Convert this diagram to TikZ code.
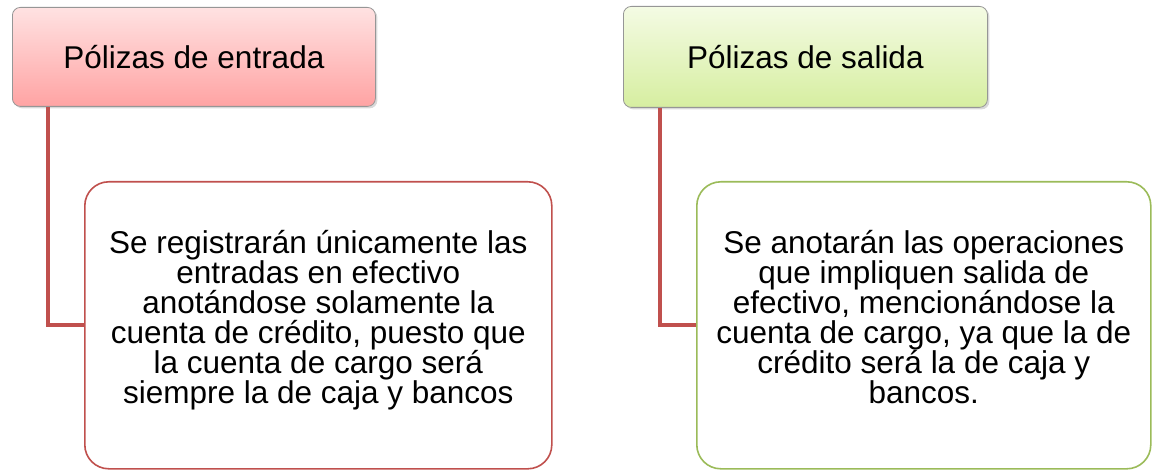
\documentclass[tikz,border=0pt]{standalone}
\usepackage{fontspec}
\setmainfont{Liberation Sans}
\usetikzlibrary{shadows}
\definecolor{linkred}{RGB}{192,80,77}
\definecolor{leafgreen}{RGB}{155,187,89}
\definecolor{pinktop}{RGB}{255,226,226}
\definecolor{pinkbot}{RGB}{255,163,163}
\definecolor{limetop}{RGB}{244,251,228}
\definecolor{limebot}{RGB}{214,238,160}
\definecolor{boxgray}{RGB}{150,150,150}
\begin{document}
\begin{tikzpicture}[x=1pt,y=-1pt]
\tikzstyle{headbox}=[draw=boxgray,line width=0.8pt,rounded corners=8pt,anchor=north west,inner sep=0pt,font=\fontsize{31.5}{30}\selectfont,drop shadow={shadow xshift=2pt,shadow yshift=-2pt,opacity=0.3}]
\tikzstyle{notebox}=[fill=white,line width=1.6pt,rounded corners=24pt,anchor=north west,align=center,inner sep=0pt,text depth=17pt,font=\fontsize{31.5}{30}\selectfont]
\tikzstyle{link}=[draw=linkred,line width=4pt]
\useasboundingbox (0,0) rectangle (1152,470);
% headings
\node[headbox,top color=pinktop,bottom color=pinkbot,minimum width=363pt,minimum height=99pt] (ent) at (12,7) {Pólizas de entrada};
\node[headbox,top color=limetop,bottom color=limebot,minimum width=364pt,minimum height=101pt] (sal) at (623,6) {Pólizas de salida};
% notes
\node[notebox,draw=linkred,minimum width=467pt,minimum height=287pt] (entnote) at (84,181) {Se registrarán únicamente las\\entradas en efectivo\\anotándose solamente la\\cuenta de crédito, puesto que\\la cuenta de cargo será\\siempre la de caja y bancos};
\node[notebox,draw=leafgreen,minimum width=454pt,minimum height=287pt] (salnote) at (696,181) {Se anotarán las operaciones\\que impliquen salida de\\efectivo, mencionándose la\\cuenta de cargo, ya que la de\\crédito será la de caja y\\bancos.};
\draw[link] ([xshift=36pt]ent.south west) |- (entnote.west);
\draw[link] ([xshift=37pt]sal.south west) |- (salnote.west);
\end{tikzpicture}
\end{document}
